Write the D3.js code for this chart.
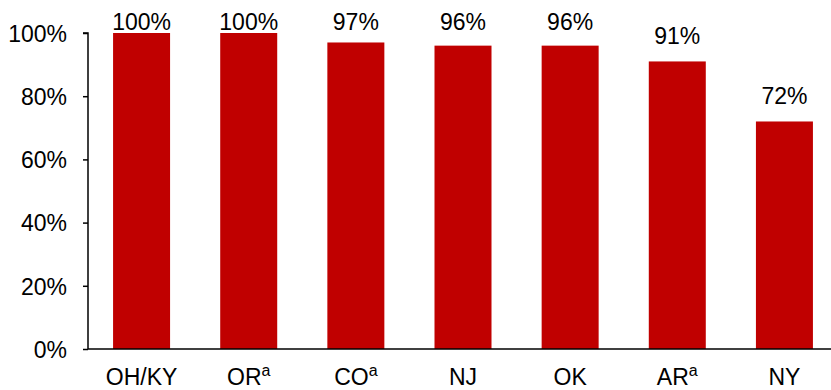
<!DOCTYPE html>
<html>
<head>
<meta charset="utf-8">
<script src="https://cdn.jsdelivr.net/npm/d3@7"></script>
<style>
  html, body { margin: 0; padding: 0; background: #fff; }
  svg { display: block; font-family: "Liberation Sans", Arial, sans-serif; }
</style>
</head>
<body>
<svg id="chart" width="831" height="390"></svg>
<script>
// Share of sites (%) by state
const states = ["OH/KY", "OR", "CO", "NJ", "OK", "AR", "NY"];
const footnotes = ["", "a", "a", "", "", "a", ""];
const shares = [100, 100, 97, 96, 96, 91, 72];
const yTicks = [0, 20, 40, 60, 80, 100];

const svg = d3.select("#chart");
const plotLeft = 88, plotRight = 838, plotTop = 33, plotBottom = 349;

const x = d3.scaleBand().domain(states).range([plotLeft, plotRight]).paddingInner(0.468).paddingOuter(0.234);
const y = d3.scaleLinear().domain([0, 100]).range([plotBottom, plotTop]);

// bars
svg.append("g").selectAll("rect")
  .data(states)
  .join("rect")
  .attr("x", d => x(d))
  .attr("width", x.bandwidth())
  .attr("y", (d, i) => y(shares[i]))
  .attr("height", (d, i) => y(0) - y(shares[i]))
  .attr("fill", "#C00000");

// value labels, kept below the top edge of the chart
svg.append("g").selectAll("text")
  .data(states)
  .join("text")
  .attr("x", d => x(d) + x.bandwidth() / 2)
  .attr("y", (d, i) => Math.max(30, y(shares[i]) - 17))
  .attr("text-anchor", "middle")
  .attr("font-size", 23)
  .attr("fill", "#000")
  .text((d, i) => shares[i] + "%");

// y axis
const yAxis = d3.axisLeft(y).tickValues(yTicks).tickFormat(d => d + "%").tickSize(5).tickPadding(16);
const gy = svg.append("g").attr("transform", `translate(${plotLeft},0)`).call(yAxis);
gy.select(".domain").attr("stroke", "#000").attr("stroke-width", 1.5).attr("d", `M-5,${plotTop}H0V${plotBottom}`);
gy.selectAll(".tick line").attr("stroke", "#000").attr("stroke-width", 1.5);
gy.selectAll(".tick text").attr("font-size", 23).attr("fill", "#000").attr("font-family", "Liberation Sans, Arial, sans-serif").attr("dy", "0.36em");

// x axis baseline
const xAxis = d3.axisBottom(x).tickSize(0).tickFormat("");
const gx = svg.append("g").attr("transform", `translate(0,${plotBottom})`).call(xAxis);
gx.select(".domain").attr("stroke", "#000").attr("stroke-width", 1.5).attr("d", `M${plotLeft},0H831`);

// category labels with optional superscript footnote marks
const cat = svg.append("g").selectAll("text")
  .data(states)
  .join("text")
  .attr("x", d => x(d) + x.bandwidth() / 2)
  .attr("y", 385)
  .attr("text-anchor", "middle")
  .attr("font-size", 23)
  .attr("fill", "#000");
cat.append("tspan").text(d => d);
cat.append("tspan")
  .attr("font-size", 16)
  .attr("dy", -9)
  .text((d, i) => footnotes[i]);
</script>
</body>
</html>
